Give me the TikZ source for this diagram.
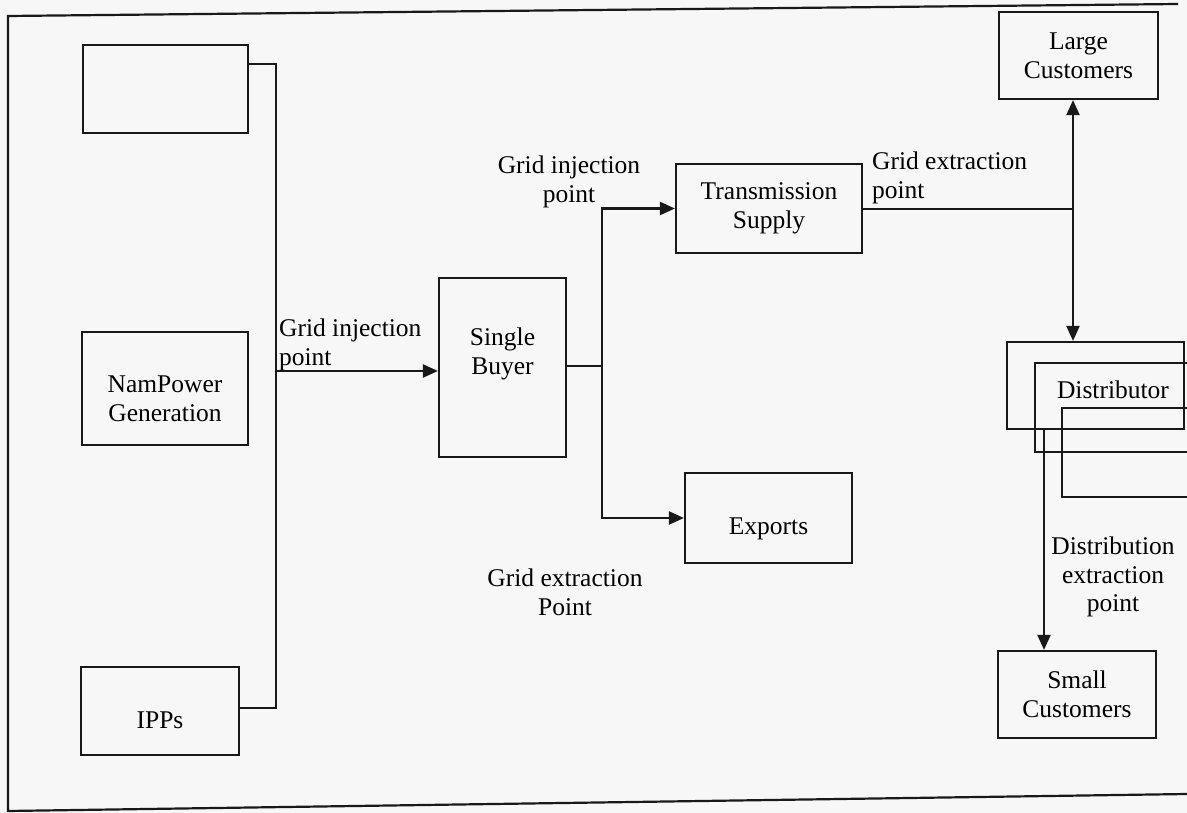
\documentclass[tikz,border=0pt]{standalone}
\usepackage{fontspec}
\setmainfont{Liberation Serif}
\usetikzlibrary{arrows.meta}
\begin{document}
\begin{tikzpicture}[x=1pt,y=-1pt,line width=2.2pt,color=black!90,
  txt/.style={font=\fontsize{25.5}{29}\selectfont},
  box/.style={draw,rectangle,inner sep=0pt,align=center,txt,text=black},
  lbl/.style={inner sep=0pt,txt,text=black},
  arr/.style={-{Triangle[length=15pt,width=13pt]}},
  darr/.style={{Triangle[length=15pt,width=13pt]}-{Triangle[length=15pt,width=13pt]}}]
\useasboundingbox (0,0) rectangle (1187,813);
\fill[black!3] (0,0) rectangle (1187,813);
\clip (0,0) rectangle (1187,813);
% frame
\draw (1178,4) -- (8,16) -- (8,811) -- (1187,794);
% left column
\node[box,minimum width=165pt,minimum height=88pt] (top) at (165.5,89) {};
\node[box,minimum width=166pt,minimum height=113pt,
  label={[lbl,align=center,yshift=-10pt]center:NamPower\\Generation}] (namp) at (165,388.5) {};
\node[box,minimum width=158pt,minimum height=88pt,
  label={[lbl,yshift=-9pt]center:IPPs}] (ipps) at (160,711) {};
% middle
\node[box,minimum width=127pt,minimum height=179pt,
  label={[lbl,align=center,yshift=14pt]center:Single\\Buyer}] (sb) at (502.5,367.5) {};
\node[box,minimum width=186pt,minimum height=89pt] (ts) at (769,208.5) {Transmission\\Supply};
\node[box,minimum width=167pt,minimum height=90pt,
  label={[lbl,yshift=-11pt]center:Exports}] (exp) at (768.5,518) {};
% right
\node[box,minimum width=159pt,minimum height=87pt] (lc) at (1078.5,55.5) {Large\\Customers};
\node[box,minimum width=158pt,minimum height=87pt] (sc) at (1077,694.5) {Small\\Customers};
\node[box,minimum width=177pt,minimum height=87pt] (d1) at (1095.5,385.5) {};
\node[box,minimum width=175pt,minimum height=89pt] (d2) at (1122.5,407.5) {};
\node[box,minimum width=168pt,minimum height=89pt] (d3) at (1146,452.5) {};
\node[lbl] (dist) at (1113,390) {Distributor};
% labels
\node[lbl,align=left,anchor=north west] (l1) at (278,318) {Grid injection\\point};
\node[lbl,align=center,anchor=north] (l2) at (569,155) {Grid injection\\point};
\node[lbl,align=left,anchor=north west] (l3) at (871,151) {Grid extraction\\point};
\node[lbl,align=center,anchor=north] (l4) at (565,568) {Grid extraction\\Point};
\node[lbl,align=center,anchor=north,font=\fontsize{25.5}{28.5}\selectfont] (l5) at (1113,536) {Distribution\\extraction\\point};
% connectors
\coordinate (busT) at (276,64);
\coordinate (busB) at (276,708);
\coordinate (inj) at (276,371);
\coordinate (split) at (602,366);
\coordinate (vx) at (1073,209);
\coordinate (dx) at (1044,0);
\draw (top.east |- busT) -- (busT) -- (busB) -- (ipps.east |- busB);
\draw[arr] (inj) -- (inj -| sb.west);
\draw (split -| sb.east) -- (split);
\draw[arr] (split) |- (ts.west);
\draw[arr] (split) |- (exp.west);
\draw (ts.east |- vx) -- (vx);
\draw[darr] (vx |- lc.south) -- (vx |- d1.north);
\draw[arr] (dx |- d1.south) -- (dx |- sc.north);
\end{tikzpicture}
\end{document}
